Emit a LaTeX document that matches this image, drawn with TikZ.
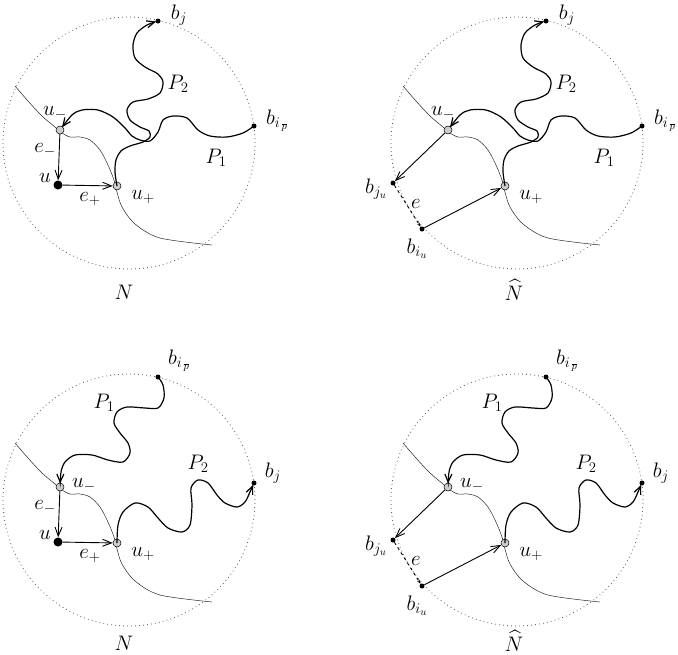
\RequirePackage{fix-cm}
\documentclass[tikz,border=0pt]{standalone}
\usepackage{amsmath, amssymb}
\usetikzlibrary{arrows.meta}

\begin{document}
\begin{tikzpicture}[x=1pt, y=-1pt, font=\fontsize{21}{24}\selectfont,
        ring_style/.style={draw=black!65, line width=0.8pt, dash pattern=on 0.8pt off 3.2pt},
        cut_style/.style={draw=black!85, line width=0.5pt},
        vertex_style/.style={circle, draw=black, fill=black!20, line width=0.5pt, inner sep=0pt, minimum size=8pt},
        end_style/.style={circle, fill=black, inner sep=0pt, minimum size=5pt},
        root_style/.style={circle, fill=black, inner sep=0pt, minimum size=9pt},
        path_style/.style={draw=black, line width=1.2pt, -{Straight Barb[length=8pt,width=7pt]}},
        edge_style/.style={draw=black, line width=0.9pt, -{Straight Barb[length=9pt,width=7pt]}},
        ghost_style/.style={draw=black, line width=0.9pt, dashed, -{Stealth[length=4pt,width=3pt]}}]

        \useasboundingbox (0,0) rectangle (678,654);

        % ring, cut and the two ends u_- , u_+ in every panel
        \foreach \dx/\dy/\k in {0/0/a, 388/0/b, 0/357/c, 388/357/d}{
        \begin{scope}[shift={(\dx,\dy)}, name prefix=\k-]
            \draw [ring_style] (129,143) circle [radius=126pt];
            \draw [cut_style] plot [smooth] coordinates {(15,86) (28,101) (42,116) (55,127) (62,133) (70,137) (80,137) (90,140) (100,150) (108,165) (114,180) (117,192) (122,207) (135,224) (160,238) (212,245)};
            \node [vertex_style] (um) at (60,130) {};
            \node [vertex_style] (up) at (117,186) {};
            \node (up_lbl) at (143,197) {$u_+$};
        \end{scope}
        }

        % top row: the two paths cross
        \foreach \dx/\k in {0/a, 388/b}{
        \begin{scope}[shift={(\dx,0)}, name prefix=\k-]
            \node [end_style] (bj) at (158,21) {};
            \node [end_style] (bi) at (254,126) {};
            \node (bj_lbl) at (179,15) {$b_j$};
            \node (bi_lbl) at (277,121) {$b_{i_{\,\overline{p}}}$};
            \node (P2_lbl) at (178,84) {$P_2$};
            \node (P1_lbl) at (216,158) {$P_1$};
            \node (um_lbl) at (55,113) {$u_-$};
            \draw [path_style, shorten >=3.5pt] plot [smooth] coordinates {(bi) (243,133) (227,137) (210,136) (198,130) (187,118) (173,116) (163,120) (158,132) (150,141) (140,140) (132,136) (125,128) (113,117) (98,110) (82,110) (72,115) (um)};
            \draw [path_style, shorten >=2pt] plot [smooth] coordinates {(up) (115,172) (116,160) (121,151) (130,146) (143,142) (150,137) (149,131) (140,127) (130,120) (127,110) (133,102) (148,99) (160,93) (163,82) (158,74) (145,67) (135,58) (133,45) (137,33) (147,25) (bj)};
        \end{scope}
        }

        % bottom row: the two paths apart
        \foreach \dx/\k in {0/c, 388/d}{
        \begin{scope}[shift={(\dx,357)}, name prefix=\k-]
            \node [end_style] (bi) at (158,20) {};
            \node [end_style] (bj) at (254,126) {};
            \node (bi_lbl) at (179,4) {$b_{i_{\,\overline{p}}}$};
            \node (bj_lbl) at (273,116) {$b_j$};
            \node (P1_lbl) at (104,46) {$P_1$};
            \node (P2_lbl) at (198,107) {$P_2$};
            \node (um_lbl) at (84,128) {$u_-$};
            \draw [path_style, shorten >=3.5pt] plot [smooth] coordinates {(bi) (163,28) (164,41) (158,51) (145,51) (127,50) (117,55) (114,66) (120,76) (128,86) (130,96) (123,105) (108,103) (92,98) (75,98) (65,105) (61,115) (um)};
            \draw [path_style, shorten >=2pt] plot [smooth] coordinates {(up) (118,168) (123,155) (135,146) (148,150) (158,161) (168,171) (182,175) (190,168) (192,148) (191,131) (198,123) (208,126) (217,138) (225,146) (237,150) (245,145) (250,135) (bj)};
        \end{scope}
        }

        % left column: N with the vertex u
        \foreach \dy/\ny/\k in {0/292/a, 357/286/c}{
        \begin{scope}[shift={(0,\dy)}, name prefix=\k-]
            \node [root_style] (u) at (58,185) {};
            \draw [edge_style] (um) edge (u);
            \draw [edge_style] (u) edge (up);
            \node (em_lbl) at (45,150) {$e_-$};
            \node (u_lbl) at (45,178) {$u$};
            \node (ep_lbl) at (90,199) {$e_+$};
            \node (N_lbl) at (124,\ny) {$N$};
        \end{scope}
        }

        % right column: N hat with the edge e on the ring
        \foreach \dy/\ny/\k in {0/290/b, 357/284/d}{
        \begin{scope}[shift={(388,\dy)}, name prefix=\k-]
            \node [end_style] (bju) at (5,183) {};
            \node [end_style] (biu) at (34,229) {};
            \draw [edge_style] (um) edge (bju);
            \draw [ghost_style] (bju) edge (biu);
            \draw [edge_style] (biu) edge (up);
            \node (bju_lbl) at (-12,189) {$b_{j_u}$};
            \node (e_lbl) at (28,204) {$e$};
            \node (biu_lbl) at (29,249) {$b_{i_u}$};
            \node (Nh_lbl) at (126,\ny) {$\widehat{N}$};
        \end{scope}
        }

\end{tikzpicture}
\end{document}
